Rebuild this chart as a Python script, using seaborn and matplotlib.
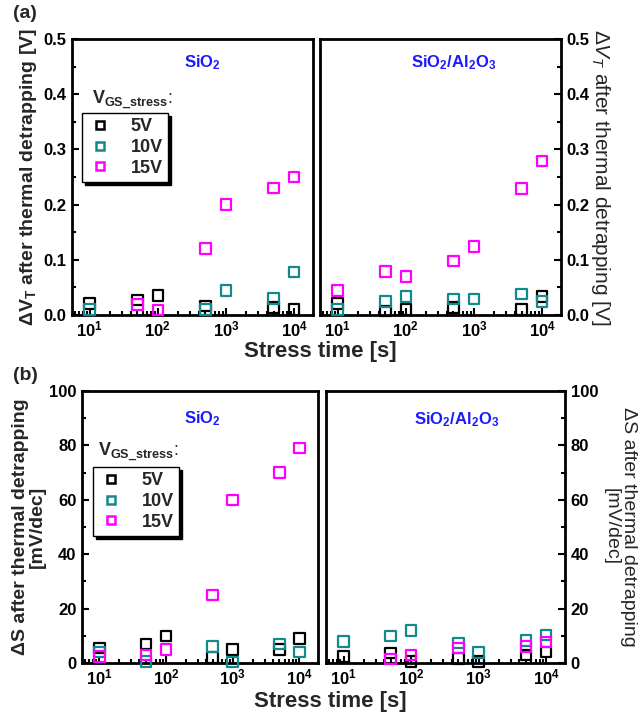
import numpy as np
import pandas as pd
import matplotlib
matplotlib.use("Agg")
import matplotlib.pyplot as plt
from matplotlib.ticker import LogLocator, MultipleLocator, NullFormatter, FormatStrFormatter
import seaborn as sns

sns.set_theme(style="white")
plt.rcParams['font.family'] = ['Liberation Sans', 'DejaVu Sans']
plt.rcParams['mathtext.fontset'] = 'custom'
plt.rcParams['mathtext.rm'] = 'Liberation Sans'
plt.rcParams['mathtext.bf'] = 'Liberation Sans:bold'
plt.rcParams['mathtext.it'] = 'Liberation Sans:italic'

# ---------------- data ----------------
stress_time = [10, 50, 100, 500, 1000, 5000, 10000]
voltages = ["5V", "10V", "15V"]
colors = ["#000000", "#138a8a", "#ff00ff"]
nan = np.nan

# (a) Delta V_T after thermal detrapping [V]
dvt_sio2_5v = [0.021, 0.027, 0.035, 0.016, nan, 0.014, 0.010]
dvt_sio2_10v = [0.010, nan, nan, 0.010, 0.044, 0.030, 0.078]
dvt_sio2_15v = [nan, 0.019, 0.009, 0.120, 0.200, 0.230, 0.250]

dvt_al_5v = [0.021, 0.007, 0.010, 0.014, nan, 0.010, 0.033]
dvt_al_10v = [0.010, 0.024, 0.033, 0.029, 0.029, 0.038, 0.024]
dvt_al_15v = [0.044, 0.079, 0.070, 0.098, 0.124, 0.229, 0.279]

# (b) Delta S after thermal detrapping [mV/dec]
ds_sio2_5v = [5.5, 7.0, 10.0, 2.0, 5.0, 5.0, 9.0]
ds_sio2_10v = [4.0, 0.5, nan, 6.0, 0.3, 7.0, 4.0]
ds_sio2_15v = [2.4, 3.0, 5.0, 25.0, 60.0, 70.0, 79.0]

ds_al_5v = [2.4, 3.6, 0.5, 1.6, 0.5, 3.0, 4.0]
ds_al_10v = [7.8, 10.0, 12.0, 7.3, 3.9, 8.2, 10.3]
ds_al_15v = [nan, 1.4, 3.0, 5.5, nan, 6.0, 7.7]

def make_df(series):
    rows = []
    for v, vals in zip(voltages, series):
        for t, y in zip(stress_time, vals):
            rows.append({"time": t, "value": y, "V": v})
    return pd.DataFrame(rows)

panels = {
    "a_left": make_df([dvt_sio2_5v, dvt_sio2_10v, dvt_sio2_15v]),
    "a_right": make_df([dvt_al_5v, dvt_al_10v, dvt_al_15v]),
    "b_left": make_df([ds_sio2_5v, ds_sio2_10v, ds_sio2_15v]),
    "b_right": make_df([ds_al_5v, ds_al_10v, ds_al_15v]),
}

W, H = 644, 715
fig = plt.figure(figsize=(W / 100, H / 100), dpi=100)

def rect(x0, y0, x1, y1):
    return [x0 / W, 1 - y1 / H, (x1 - x0) / W, (y1 - y0) / H]

ax_al = fig.add_axes(rect(72, 39, 313, 315))
ax_ar = fig.add_axes(rect(320, 39, 561, 315))
ax_bl = fig.add_axes(rect(82, 391, 318, 663))
ax_br = fig.add_axes(rect(326, 391, 565, 663))

def draw(ax, df):
    for v, c in zip(voltages, colors):
        sub = df[df["V"] == v].dropna()
        sns.scatterplot(data=sub, x="time", y="value", ax=ax, marker="s",
                        s=58, color=c, facecolor="none", edgecolor=c,
                        linewidth=1.6, legend=False, zorder=3,
                        clip_on=False)

def style(ax, ymax, major, minor, right=False):
    ax.set_xscale("log")
    ax.set_xlim(5.5, 19000)
    ax.set_ylim(0, ymax)
    ax.yaxis.set_major_locator(MultipleLocator(major))
    ax.yaxis.set_minor_locator(MultipleLocator(minor))
    ax.xaxis.set_major_locator(LogLocator(base=10, numticks=10))
    ax.xaxis.set_minor_locator(LogLocator(base=10, subs=np.arange(2, 10), numticks=10))
    ax.xaxis.set_minor_formatter(NullFormatter())
    for s in ax.spines.values():
        s.set_linewidth(2.0)
        s.set_color("black")
    ax.tick_params(which="both", direction="in", bottom=True, top=False,
                   left=not right, right=right, labelleft=not right,
                   labelright=right, width=1.5, colors="black")
    ax.tick_params(which="major", length=5, labelsize=12, pad=4)
    ax.tick_params(axis="x", which="major", pad=3)
    ax.tick_params(which="minor", length=3)
    ax.set_xlabel("")
    ax.set_ylabel("")

for key, ax in [("a_left", ax_al), ("a_right", ax_ar), ("b_left", ax_bl), ("b_right", ax_br)]:
    draw(ax, panels[key])

style(ax_al, 0.5, 0.1, 0.05)
style(ax_ar, 0.5, 0.1, 0.05, right=True)
style(ax_bl, 100, 20, 10)
style(ax_br, 100, 20, 10, right=True)
ax_al.yaxis.set_major_formatter(FormatStrFormatter("%.1f"))
ax_ar.yaxis.set_major_formatter(FormatStrFormatter("%.1f"))
for ax in (ax_al, ax_ar, ax_bl, ax_br):
    for lab in ax.get_xticklabels() + ax.get_yticklabels():
        lab.set_fontweight("bold")

blue = "#1a1aff"
ax_al.text(0.54, 0.913, r"$\mathbf{SiO_2}$", transform=ax_al.transAxes, ha="center",
           va="center", color=blue, fontsize=12)
ax_ar.text(0.556, 0.913, r"$\mathbf{SiO_2/Al_2O_3}$", transform=ax_ar.transAxes,
           ha="center", va="center", color=blue, fontsize=12)
ax_bl.text(0.51, 0.897, r"$\mathbf{SiO_2}$", transform=ax_bl.transAxes, ha="center",
           va="center", color=blue, fontsize=12)
ax_br.text(0.548, 0.893, r"$\mathbf{SiO_2/Al_2O_3}$", transform=ax_br.transAxes,
           ha="center", va="center", color=blue, fontsize=12)

# y labels
ax_al.set_ylabel(r"$\mathbf{\Delta V_T}$ after thermal detrapping [V]", fontsize=14,
                 fontweight="bold", labelpad=3)
ax_ar.yaxis.set_label_position("right")
ax_ar.set_ylabel(r"$\Delta V_T$ after thermal detrapping [V]", fontsize=15,
                 rotation=270, labelpad=16)
ax_bl.set_ylabel("ΔS after thermal detrapping\n[mV/dec]", fontsize=14,
                 fontweight="bold", labelpad=2, linespacing=1.05)
ax_br.yaxis.set_label_position("right")
ax_br.set_ylabel("ΔS after thermal detrapping\n[mV/dec]", fontsize=14,
                 rotation=270, labelpad=28, linespacing=1.05)

# x labels
fig.text(320 / W, 1 - 352 / H, "Stress time [s]", ha="center", va="center",
         fontsize=16, fontweight="bold")
fig.text(330 / W, 1 - 701 / H, "Stress time [s]", ha="center", va="center",
         fontsize=16, fontweight="bold")

# panel letters
fig.text(13 / W, 1 - 14 / H, "(a)", fontsize=14, fontweight="bold", va="center")
fig.text(13 / W, 1 - 375 / H, "(b)", fontsize=14, fontweight="bold", va="center")

# legends
def add_legend(ax, bbox, title_xy):
    handles = [plt.Line2D([], [], marker="s", ls="none", markersize=6,
                          markerfacecolor="none", markeredgecolor=c,
                          markeredgewidth=1.8) for c in colors]
    leg = ax.legend(handles, voltages, loc="upper left", bbox_to_anchor=bbox,
                    frameon=True, fancybox=False, shadow={"color": "black", "alpha": 1},
                    edgecolor="black", framealpha=1, fontsize=13,
                    handletextpad=1.0, borderpad=0.3, labelspacing=0.2,
                    handlelength=1.4, borderaxespad=0)
    leg.get_frame().set_linewidth(1.0)
    for t in leg.get_texts():
        t.set_fontweight("bold")
    ax.text(title_xy[0], title_xy[1], r"$\mathbf{V_{GS\_stress}}$:",
            transform=ax.transAxes, fontsize=13, ha="left", va="center")

add_legend(ax_al, ((82 - 72) / 241, (315 - 113) / 276), ((92 - 72) / 241, (315 - 100) / 276))
add_legend(ax_bl, ((93 - 82) / 236, (663 - 467) / 272), ((98 - 82) / 236, (663 - 452) / 272))

fig.savefig("out.png", dpi=100)
